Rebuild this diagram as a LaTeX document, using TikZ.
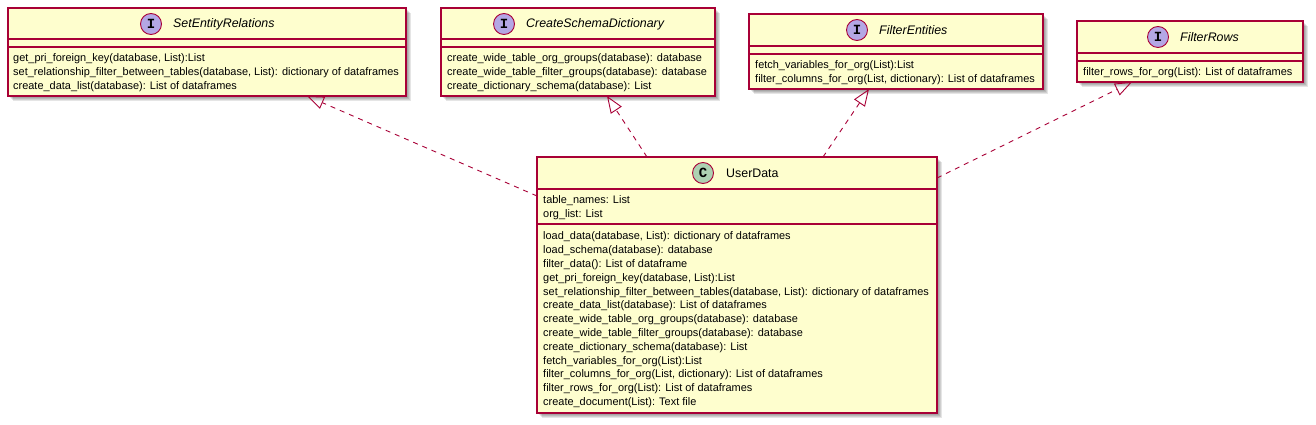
\documentclass[tikz,border=0pt]{standalone}
\usepackage{fontspec}
\setmainfont{Liberation Sans}
\newfontfamily\circfont{Liberation Mono}
\usetikzlibrary{arrows.meta}
\definecolor{umlfill}{HTML}{FEFECE}
\definecolor{umlborder}{HTML}{A80036}
\definecolor{ifacecirc}{HTML}{B4A7E5}
\definecolor{classcirc}{HTML}{ADD1B2}
\tikzset{
  box/.style={draw=umlborder, fill=umlfill, line width=1.1pt, rectangle, inner sep=0pt, outer sep=0pt, anchor=north west},
  sepline/.style={draw=umlborder, line width=1.1pt},
  shadowlayer/.style={fill=black, opacity=0.1},
  icirc/.style={circle, draw=umlborder, line width=0.9pt, fill=ifacecirc, minimum size=21pt, inner sep=0pt, font=\circfont\bfseries\fontsize{14}{14}\selectfont},
  ccirc/.style={circle, draw=umlborder, line width=0.9pt, fill=classcirc, minimum size=21pt, inner sep=0pt, font=\circfont\bfseries\fontsize{14}{14}\selectfont},
  iname/.style={anchor=west, inner sep=0pt, font=\itshape\fontsize{12.4}{14}\selectfont},
  cname/.style={anchor=west, inner sep=0pt, font=\fontsize{12.4}{14}\selectfont},
  mem/.style={anchor=base west, inner sep=0pt, font=\fontsize{10.95}{13}\selectfont},
  realize/.style={draw=umlborder, line width=0.9pt, dash pattern=on 5pt off 5pt, -{Triangle[open, length=17pt, width=13pt, line width=0.9pt]}}
}
\begin{document}
\begin{tikzpicture}[x=1pt, y=-1pt]
\useasboundingbox (0,0) rectangle (1316,425);
% shadows
\foreach \d in {2,3,4,5}{
  \fill[shadowlayer] (8+\d,8+\d) rectangle (406+\d,96+\d);
  \fill[shadowlayer] (441+\d,8+\d) rectangle (715+\d,96+\d);
  \fill[shadowlayer] (749+\d,14+\d) rectangle (1043+\d,89+\d);
  \fill[shadowlayer] (1077+\d,21+\d) rectangle (1303+\d,82+\d);
  \fill[shadowlayer] (537+\d,157+\d) rectangle (937+\d,413+\d);
}
% SetEntityRelations
\node[box, minimum width=398pt, minimum height=88pt] (b1) at (8,8) {};
\draw[sepline] (8,39) -- (406,39);
\draw[sepline] (8,47) -- (406,47);
\node[icirc] (b1c) at (151,24) {I};
\node[iname] (b1n) at (173,24) {SetEntityRelations};
\node[mem] (b1m1) at (13,61.8) {get\_pri\_foreign\_key(database, List):List};
\node[mem] (b1m2) at (13,75.8) {set\_relationship\_filter\_between\_tables(database, List): dictionary of dataframes};
\node[mem] (b1m3) at (13,89.8) {create\_data\_list(database): List of dataframes};
% CreateSchemaDictionary
\node[box, minimum width=274pt, minimum height=88pt] (b2) at (441,8) {};
\draw[sepline] (441,39) -- (715,39);
\draw[sepline] (441,47) -- (715,47);
\node[icirc] (b2c) at (504,24) {I};
\node[iname] (b2n) at (526,24) {CreateSchemaDictionary};
\node[mem] (b2m1) at (447,61.8) {create\_wide\_table\_org\_groups(database): database};
\node[mem] (b2m2) at (447,75.8) {create\_wide\_table\_filter\_groups(database): database};
\node[mem] (b2m3) at (447,89.8) {create\_dictionary\_schema(database): List};
% FilterEntities
\node[box, minimum width=294pt, minimum height=75pt] (b3) at (749,14) {};
\draw[sepline] (749,46) -- (1043,46);
\draw[sepline] (749,54) -- (1043,54);
\node[icirc] (b3c) at (857,30) {I};
\node[iname] (b3n) at (879,30) {FilterEntities};
\node[mem] (b3m1) at (755,68.8) {fetch\_variables\_for\_org(List):List};
\node[mem] (b3m2) at (755,82.8) {filter\_columns\_for\_org(List, dictionary): List of dataframes};
% FilterRows
\node[box, minimum width=226pt, minimum height=61pt] (b4) at (1077,21) {};
\draw[sepline] (1077,53) -- (1303,53);
\draw[sepline] (1077,61) -- (1303,61);
\node[icirc] (b4c) at (1158,37) {I};
\node[iname] (b4n) at (1180,37) {FilterRows};
\node[mem] (b4m1) at (1083,75.8) {filter\_rows\_for\_org(List): List of dataframes};
% UserData
\node[box, minimum width=400pt, minimum height=256pt] (ud) at (537,157) {};
\draw[sepline] (537,189) -- (937,189);
\draw[sepline] (537,224) -- (937,224);
\node[ccirc] (udc) at (703,173) {C};
\node[cname] (udn) at (726,173) {UserData};
\node[mem] (uda1) at (543,203.8) {table\_names: List};
\node[mem] (uda2) at (543,217.8) {org\_list: List};
\foreach \t [count=\i from 0] in {
  {load\_data(database, List): dictionary of dataframes},
  {load\_schema(database): database},
  {filter\_data(): List of dataframe},
  {get\_pri\_foreign\_key(database, List):List},
  {set\_relationship\_filter\_between\_tables(database, List): dictionary of dataframes},
  {create\_data\_list(database): List of dataframes},
  {create\_wide\_table\_org\_groups(database): database},
  {create\_wide\_table\_filter\_groups(database): database},
  {create\_dictionary\_schema(database): List},
  {fetch\_variables\_for\_org(List):List},
  {filter\_columns\_for\_org(List, dictionary): List of dataframes},
  {filter\_rows\_for\_org(List): List of dataframes},
  {create\_document(List): Text file}}{
  \node[mem] (udm\i) at (543,{239.8+13.8*\i}) {\t};
}
% connectors
\coordinate (s1) at ([yshift=-39pt]ud.north west);
\coordinate (t1) at ([xshift=299pt]b1.south west);
\coordinate (s2) at ([xshift=110pt]ud.north west);
\coordinate (t2) at ([xshift=166pt]b2.south west);
\coordinate (s3) at ([xshift=286pt]ud.north west);
\coordinate (t3) at ([xshift=120pt]b3.south west);
\coordinate (s4) at ([yshift=-21pt]ud.north east);
\coordinate (t4) at ([xshift=55pt]b4.south west);
\draw[realize] (s1) -- (t1);
\draw[realize] (s2) -- (t2);
\draw[realize] (s3) -- (t3);
\draw[realize] (s4) -- (t4);
\end{tikzpicture}
\end{document}
